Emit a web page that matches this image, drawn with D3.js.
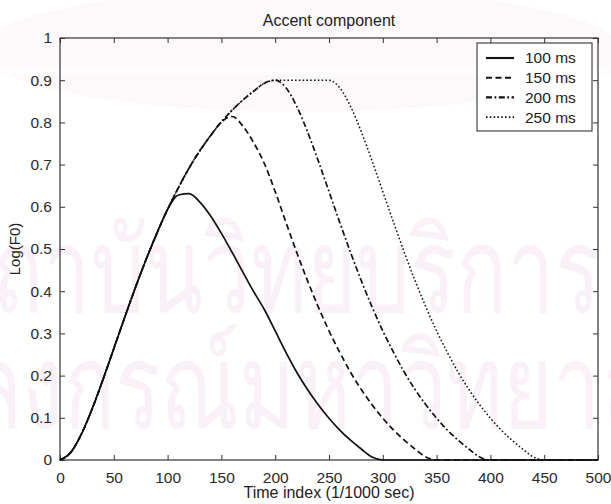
<!DOCTYPE html>
<html>
<head>
<meta charset="utf-8">
<script src="https://cdn.jsdelivr.net/npm/d3@7"></script>
<style>
  body { margin: 0; background: #fff; }
  text { font-family: "Liberation Sans", Arial, sans-serif; fill: #222; }
</style>
</head>
<body>
<div class="chart"></div>
<script>
// time index (1/1000 sec)
var timeIndex = [0, 10, 20, 30, 40, 50, 60, 70, 80, 90,
  100, 110, 120, 130, 140, 150, 160, 170, 180, 190,
  200, 210, 220, 230, 240, 250, 260, 270, 280, 290,
  300, 310, 320, 330, 340, 350, 360, 370, 380, 390,
  400, 410, 420, 430, 440, 450, 460, 470, 480, 490, 500];

// accent component, one array per accent duration
var acc100 = [0, .018, .062, .122, .191, .264, .337, .408, .475, .537,
  .594, .628, .631, .611, .578, .537, .492, .445, .399, .356,
  .306, .255, .208, .167, .131, .099, .071, .047, .026, .007,
  0, 0, 0, 0, 0, 0, 0, 0, 0, 0,
  0, 0, 0, 0, 0, 0, 0, 0, 0, 0, 0];
var acc150 = [0, .018, .062, .122, .191, .264, .337, .408, .475, .537,
  .594, .645, .692, .733, .769, .801, .814, .791, .752, .702,
  .636, .563, .492, .425, .363, .306, .255, .208, .167, .131,
  .099, .071, .047, .026, .007, 0, 0, 0, 0, 0,
  0, 0, 0, 0, 0, 0, 0, 0, 0, 0, 0];
var acc200 = [0, .018, .062, .122, .191, .264, .337, .408, .475, .537,
  .594, .645, .692, .733, .769, .801, .829, .853, .874, .893,
  .9, .882, .838, .778, .709, .636, .563, .492, .425, .363,
  .306, .255, .208, .167, .131, .099, .071, .047, .026, .007,
  0, 0, 0, 0, 0, 0, 0, 0, 0, 0, 0];
var acc250 = [0, .018, .062, .122, .191, .264, .337, .408, .475, .537,
  .594, .645, .692, .733, .769, .801, .829, .853, .874, .893,
  .9, .9, .9, .9, .9, .9, .882, .838, .778, .709,
  .636, .563, .492, .425, .363, .306, .255, .208, .167, .131,
  .099, .071, .047, .026, .007, 0, 0, 0, 0, 0, 0];

var seriesNames = ['100 ms', '150 ms', '200 ms', '250 ms'];
var xTicks = [0, 50, 100, 150, 200, 250, 300, 350, 400, 450, 500];
var yTicks = [0, 0.1, 0.2, 0.3, 0.4, 0.5, 0.6, 0.7, 0.8, 0.9, 1];
var watermarkLines = ['สถาบันวิทยบริการ', 'จุฬาลงกรณ์มหาวิทยาลัย'];

var W = 611, H = 504,
  margin = { top: 38, right: 13, bottom: 44, left: 60 },
  width = W - margin.left - margin.right,
  height = H - margin.top - margin.bottom,
  tickLen = 5;

var series = [
  { name: seriesNames[0], values: acc100, dash: null, sw: 1.7 },
  { name: seriesNames[1], values: acc150, dash: '6,3.5', sw: 1.7 },
  { name: seriesNames[2], values: acc200, dash: '6,2.5,1.8,2.5', sw: 1.7 },
  { name: seriesNames[3], values: acc250, dash: '1.6,2.2', sw: 1.5 }
];

var svg = d3.select('.chart')
  .append('svg')
    .attr('width', W)
    .attr('height', H);

// faint watermark behind the plot
var wm = svg.append('g').attr('class', 'watermark');
wm.append('ellipse')
  .attr('cx', 300).attr('cy', 50)
  .attr('rx', 320).attr('ry', 62)
  .style('fill', '#fdf8fa');
wm.append('rect')
  .attr('x', 0).attr('y', 66).attr('width', W).attr('height', 9)
  .style('fill', '#fffcfd');
wm.selectAll('.wm-text')
  .data(watermarkLines)
  .enter()
  .append('text')
    .attr('class', 'wm-text')
    .attr('transform', (d, i) => `translate(${i ? -185 : -60}, ${i ? 428 : 312}) scale(0.72, 1)`)
    .style('font-family', 'sans-serif')
    .style('font-size', '118px')
    .style('fill', '#f9f1f7')
    .text(d => d);

var g = svg.append('g')
  .attr('transform', `translate(${margin.left}, ${margin.top})`);

var x = d3.scaleLinear().domain([0, 500]).range([0, width]);
var y = d3.scaleLinear().domain([0, 1]).range([height, 0]);

// axes, matlab style: ticks inside on all four sides
var axisColor = '#333';
var xAxis = g.append('g')
  .attr('transform', `translate(0, ${height})`)
  .call(d3.axisBottom(x).tickValues(xTicks).tickSizeInner(-tickLen).tickSizeOuter(0).tickPadding(tickLen + 7).tickFormat(d3.format('d')));
var xTop = g.append('g')
  .call(d3.axisTop(x).tickValues(xTicks).tickSizeInner(-tickLen).tickSizeOuter(0).tickFormat(''));
var yAxis = g.append('g')
  .call(d3.axisLeft(y).tickValues(yTicks).tickSizeInner(-tickLen).tickSizeOuter(0).tickPadding(tickLen + 3).tickFormat(d => d === 0 || d === 1 ? d3.format('d')(d) : d3.format('.1f')(d)));
var yRight = g.append('g')
  .attr('transform', `translate(${width}, 0)`)
  .call(d3.axisRight(y).tickValues(yTicks).tickSizeInner(-tickLen).tickSizeOuter(0).tickFormat(''));

g.selectAll('.domain').remove();
g.selectAll('.tick line').style('stroke', axisColor).style('stroke-width', 1);
g.selectAll('.tick text')
  .style('font-size', '15.5px')
  .style('fill', '#2a2a2a')
  .style('font-family', '"Liberation Sans", Arial, sans-serif');

g.append('rect')
  .attr('width', width)
  .attr('height', height)
  .style('fill', 'none')
  .style('stroke', axisColor)
  .style('stroke-width', 1.2);

// curves
var line = d3.line()
  .x((d, i) => x(timeIndex[i]))
  .y(d => y(d))
  .curve(d3.curveMonotoneX);

g.selectAll('.accent')
  .data(series)
  .enter()
  .append('path')
    .attr('class', 'accent')
    .attr('d', d => line(d.values))
    .style('fill', 'none')
    .style('stroke', '#111')
    .style('stroke-width', d => d.sw)
    .style('stroke-dasharray', d => d.dash);

// legend
var lgX = 417, lgY = 5, lgW = 115, lgH = 88, rowH = 19.7;
var legend = g.append('g')
  .attr('transform', `translate(${lgX}, ${lgY})`);
legend.append('rect')
  .attr('width', lgW)
  .attr('height', lgH)
  .style('fill', '#fff')
  .style('stroke', axisColor)
  .style('stroke-width', 1.1);

var rows = legend.selectAll('.legend')
  .data(series)
  .enter()
  .append('g')
    .attr('class', 'legend')
    .attr('transform', (d, i) => `translate(0, ${15 + i * rowH})`);
rows.append('line')
  .attr('x1', 9).attr('x2', 37)
  .attr('y1', 0).attr('y2', 0)
  .style('stroke', '#111')
  .style('stroke-width', d => d.sw + 0.4)
  .style('stroke-dasharray', d => d.dash);
rows.append('text')
  .attr('x', 48)
  .attr('dy', '.35em')
  .style('font-size', '15.5px')
  .text(d => d.name);

// title and axis labels
svg.append('text')
  .attr('x', margin.left + width / 2)
  .attr('y', 26)
  .style('text-anchor', 'middle')
  .style('font-size', '16px')
  .text('Accent component');
svg.append('text')
  .attr('x', margin.left + width / 2)
  .attr('y', 498)
  .style('text-anchor', 'middle')
  .style('font-size', '16px')
  .text('Time index (1/1000 sec)');
svg.append('text')
  .attr('transform', `translate(20, ${margin.top + height / 2}) rotate(-90)`)
  .style('text-anchor', 'middle')
  .style('font-size', '15px')
  .text('Log(F0)');
</script>
</body>
</html>
